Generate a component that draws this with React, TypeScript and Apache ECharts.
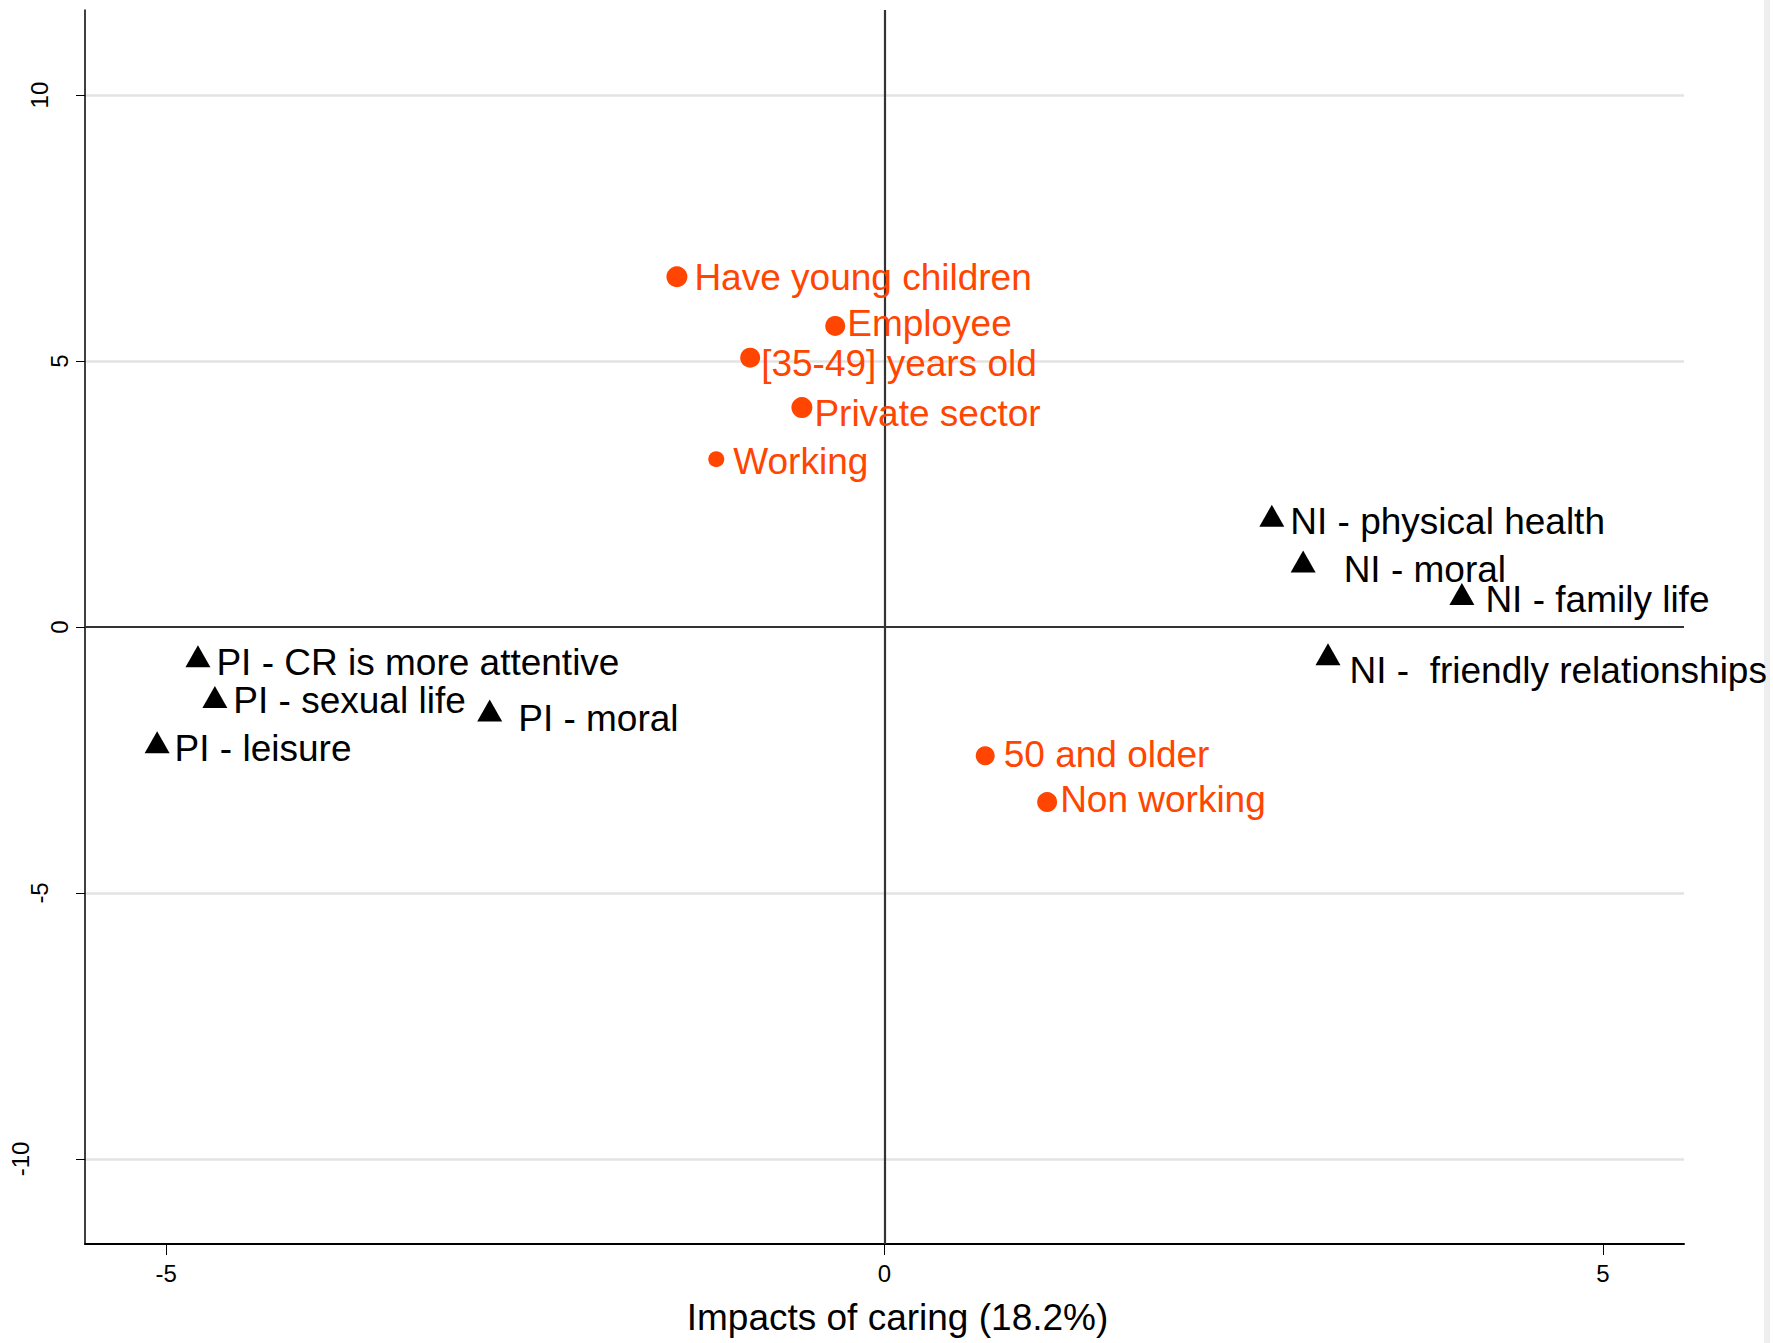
import React, { useEffect, useRef } from "react";
import * as echarts from "echarts";

// ---------- data ----------
const profileNames = [
  "Have young children",
  "Employee",
  "[35-49] years old",
  "Private sector",
  "Working",
  "50 and older",
  "Non working",
];
const profileX = [-1.445, -0.343, -0.935, -0.575, -1.171, 0.701, 1.132];
const profileY = [6.585, 5.66, 5.064, 4.125, 3.156, -2.42, -3.291];

const impactNames = [
  "NI - physical health",
  "NI - moral",
  "NI - family life",
  "NI -  friendly relationships",
  "PI - CR is more attentive",
  "PI - sexual life",
  "PI - moral",
  "PI - leisure",
];
const impactX = [2.696, 2.914, 4.019, 3.087, -4.779, -4.661, -2.748, -5.063];
const impactY = [2.092, 1.232, 0.621, -0.514, -0.552, -1.316, -1.571, -2.165];

const xTicks = [-5, 0, 5];
const yTicks = [-10, -5, 0, 5, 10];
const gridValues = [-10, -5, 5, 10];
const xTitle = "Impacts of caring (18.2%)";

// ---------- style ----------
const ORANGE = "#FF4500";
const FONT = "'Liberation Sans', Arial, Helvetica, sans-serif";
const profileSizes = [21, 20, 20, 21, 16, 19, 20];
const profileLabelGap = [7, 2, 1, 2, 9, 9, 3];
const profileLabelDy = [1, -2, 6, 6, 2, -1, -3];
const impactLabelGap = [6, 28, 11, 9, 6, 6, 16, 5];
const impactLabelDy = [6, 8, 6, 16, 6, 4, 8, 6];

export default function App() {
  const ref = useRef<HTMLDivElement>(null);

  useEffect(() => {
    if (!ref.current) return;
    const chart = echarts.init(ref.current, undefined, { renderer: "svg" });

    const profileData = profileNames.map((n, i) => ({
      name: n,
      value: [profileX[i], profileY[i]],
      symbolSize: profileSizes[i],
      label: { distance: profileLabelGap[i], offset: [0, profileLabelDy[i]] },
    }));
    const impactData = impactNames.map((n, i) => ({
      name: n,
      value: [impactX[i], impactY[i]],
      label: { distance: impactLabelGap[i], offset: [0, impactLabelDy[i]] },
    }));

    const option: any = {
      animation: false,
      backgroundColor: "#ffffff",
      textStyle: { fontFamily: FONT },
      grid: { left: 85, right: 89, top: 10, bottom: 99, containLabel: false },
      graphic: [
        {
          type: "rect",
          left: 1764,
          top: 0,
          shape: { width: 6, height: 1343 },
          style: { fill: "#eeeeee" },
          silent: true,
        },
      ],
      xAxis: {
        type: "value",
        min: -5.565,
        max: 5.565,
        position: "bottom",
        axisLine: { show: true, onZero: false, lineStyle: { color: "#000", width: 2 } },
        axisTick: { show: true, customValues: xTicks, length: 11, lineStyle: { color: "#000", width: 1 } },
        axisLabel: {
          customValues: xTicks,
          fontSize: 24,
          color: "#000",
          margin: 17,
          fontFamily: FONT,
          formatter: (v: number) => String(v),
        },
        splitLine: { show: false },
        name: xTitle,
        nameLocation: "middle",
        nameGap: 55,
        nameTextStyle: { fontSize: 37, color: "#000", fontFamily: FONT, padding: [0, 0, 0, 26] },
      },
      yAxis: {
        type: "value",
        min: -11.6,
        max: 11.6,
        position: "left",
        axisLine: { show: true, onZero: false, lineStyle: { color: "#000", width: 1.5 } },
        axisTick: { show: true, customValues: yTicks, length: 9, lineStyle: { color: "#000", width: 1 } },
        axisLabel: {
          customValues: yTicks,
          rotate: 90,
          margin: 14,
          fontSize: 24,
          color: "#000",
          fontFamily: FONT,
          formatter: (v: number) => `{l${String(v).length}|${v}}`,
          rich: {
            l1: { fontSize: 24, color: "#000", fontFamily: FONT, padding: [0, 0, 0, 0] },
            l2: { fontSize: 24, color: "#000", fontFamily: FONT, padding: [0, 0, 20, 0] },
            l3: { fontSize: 24, color: "#000", fontFamily: FONT, padding: [0, 0, 39, 0] },
          },
        },
        splitLine: { show: false },
      },
      series: [
        {
          type: "scatter",
          name: "gridlines",
          data: [],
          z: 0,
          markLine: {
            z: 0,
            silent: true,
            symbol: ["none", "none"],
            label: { show: false },
            animation: false,
            data: gridValues.map((v) => ({ yAxis: v, lineStyle: { color: "#e3e3e3", width: 2.5, type: "solid" } })),
          },
        },
        {
          type: "scatter",
          name: "zerolines",
          data: [],
          z: 1,
          markLine: {
            z: 1,
            silent: true,
            symbol: ["none", "none"],
            label: { show: false },
            animation: false,
            data: [
              { yAxis: 0, lineStyle: { color: "#333", width: 2.2, type: "solid" } },
              { xAxis: 0, lineStyle: { color: "#333", width: 2.2, type: "solid" } },
            ],
          },
        },
        {
          type: "scatter",
          name: "profiles",
          symbol: "circle",
          z: 3,
          data: profileData,
          itemStyle: { color: ORANGE, opacity: 1 },
          label: {
            show: true,
            position: "right",
            formatter: "{b}",
            color: ORANGE,
            fontSize: 37,
            lineHeight: 32,
            fontFamily: FONT,
          },
          emphasis: { disabled: true },
        },
        {
          type: "scatter",
          name: "impacts",
          symbol: "triangle",
          symbolSize: [25, 22],
          z: 3,
          data: impactData,
          itemStyle: { color: "#000", opacity: 1 },
          label: {
            show: true,
            position: "right",
            formatter: "{b}",
            color: "#000",
            fontSize: 37,
            lineHeight: 32,
            fontFamily: FONT,
          },
          emphasis: { disabled: true },
        },
      ],
    };

    chart.setOption(option);
    return () => chart.dispose();
  }, []);

  return (
    <div
      ref={ref}
      style={{ position: "absolute", left: 0, top: 0, width: 1773, height: 1343, background: "#fff" }}
    />
  );
}
